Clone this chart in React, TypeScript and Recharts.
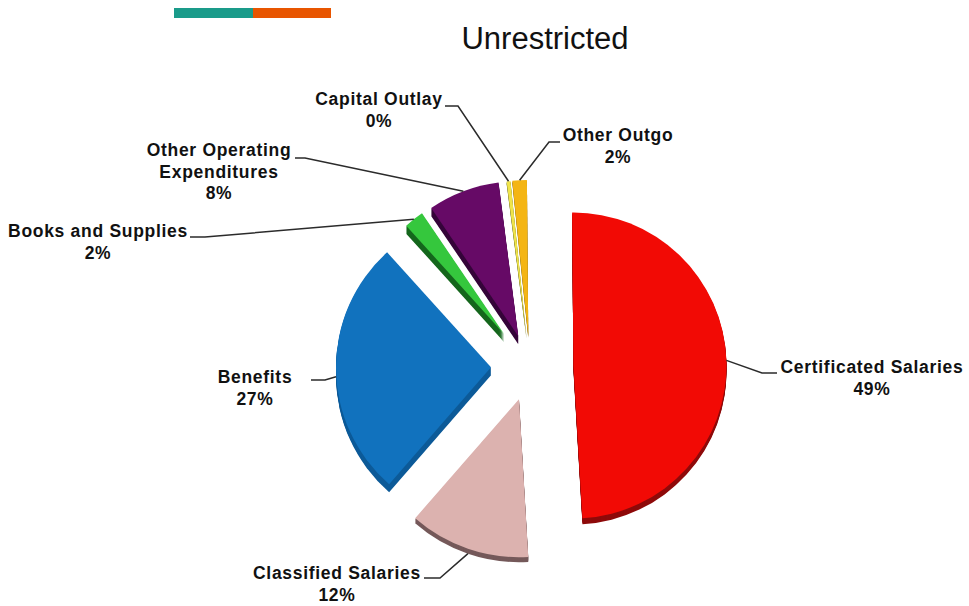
import { PieChart, Pie, Sector } from 'recharts'

const categories = [
  'Certificated Salaries',
  'Classified Salaries',
  'Benefits',
  'Books and Supplies',
  'Other Operating\nExpenditures',
  'Capital Outlay',
  'Other Outgo',
]
const shares = [49.4, 12.4, 27.0, 2.2, 7.5, 0.4, 1.5]

const faceColors = ['#f20a05', '#dcb2af', '#1172be', '#35c73d', '#660a66', '#efe44a', '#f4b514']
const sideColors = ['#8e0a0a', '#75595a', '#0c5a98', '#14661c', '#36063a', '#6a6a20', '#8a6a10']
const explode = [43.5, 34, 39, 42, 33, 31, 31]
const radii = [153, 158, 155, 146, 155, 156, 156]
const depths = [6, 5, 8, 8, 8, 2, 2]

// label centre, first-line baseline, then the elbow and end of its leader
const labelSpots = [
  { x: 872, y: 373, elbowX: 762, elbowY: 373, endX: 777 },
  { x: 337, y: 579, elbowX: 440, elbowY: 578, endX: 424 },
  { x: 255, y: 383, elbowX: 325, elbowY: 380, endX: 311 },
  { x: 98, y: 237, elbowX: 205, elbowY: 237, endX: 190 },
  { x: 219, y: 156, elbowX: 305, elbowY: 158, endX: 295 },
  { x: 379, y: 105, elbowX: 458, elbowY: 106, endX: 445 },
  { x: 618, y: 141, elbowX: 549, elbowY: 142, endX: 560 },
]

const chartData = categories.map((name, i) => ({ name, value: shares[i], index: i }))

const RAD = Math.PI / 180
const LABEL_FONT = '"Liberation Sans", Arial, sans-serif'

// Pushes a sector out along its mid angle
function sliceOrigin(cx: number, cy: number, mid: number, dist: number) {
  return { x: cx + dist * Math.cos(mid * RAD), y: cy - dist * Math.sin(mid * RAD) }
}

function ExplodedSlice(props: any) {
  const { cx, cy, startAngle, endAngle, payload } = props
  const i = payload.index
  const mid = (startAngle + endAngle) / 2
  const o = sliceOrigin(cx, cy, mid, explode[i])
  const sides = []
  for (let k = depths[i]; k > 0; k--) {
    sides.push(
      <Sector
        key={k}
        cx={o.x}
        cy={o.y + k}
        innerRadius={0}
        outerRadius={radii[i]}
        startAngle={startAngle}
        endAngle={endAngle}
        fill={sideColors[i]}
        stroke="none"
      />,
    )
  }
  return (
    <g>
      {sides}
      <Sector
        cx={o.x}
        cy={o.y}
        innerRadius={0}
        outerRadius={radii[i]}
        startAngle={startAngle}
        endAngle={endAngle}
        fill={faceColors[i]}
        stroke="none"
      />
    </g>
  )
}

function SliceLabel(props: any) {
  const { cx, cy, midAngle, payload } = props
  const i = payload.index
  const spot = labelSpots[i]
  const o = sliceOrigin(cx, cy, midAngle, explode[i])
  const tipX = o.x + radii[i] * Math.cos(midAngle * RAD)
  let tipY = o.y - radii[i] * Math.sin(midAngle * RAD)
  if (midAngle < 0 && midAngle > -180) tipY += depths[i]
  const lines = [...String(payload.name).split('\n'), `${Math.round(payload.value)}%`]
  return (
    <g>
      <polyline
        points={`${tipX},${tipY} ${spot.elbowX},${spot.elbowY} ${spot.endX},${spot.elbowY}`}
        fill="none"
        stroke="#2b2b2b"
        strokeWidth={1.5}
      />
      <text
        x={spot.x}
        y={spot.y}
        textAnchor="middle"
        fontFamily={LABEL_FONT}
        fontWeight="bold"
        fontSize={17.5}
        letterSpacing={0.7}
        fill="#111"
      >
        {lines.map((line, n) => (
          <tspan key={n} x={spot.x} dy={n === 0 ? 0 : 21.5}>
            {line}
          </tspan>
        ))}
      </text>
    </g>
  )
}

export default function App() {
  return (
    <div style={{ position: 'absolute', left: 0, top: 0, width: 969, height: 606, background: '#fff' }}>
      <PieChart width={969} height={606} margin={{ top: 0, right: 0, bottom: 0, left: 0 }}>
        <rect x={174} y={8} width={79} height={10} fill="#1a9b8a" />
        <rect x={253} y={8} width={78} height={10} fill="#e85500" />
        <text x={545} y={49} textAnchor="middle" fontFamily={LABEL_FONT} fontSize={31} fill="#111">
          Unrestricted
        </text>
        <Pie
          data={chartData}
          dataKey="value"
          nameKey="name"
          cx={530}
          cy={367}
          outerRadius={154}
          startAngle={90.5}
          endAngle={-269.5}
          stroke="none"
          shape={ExplodedSlice}
          label={SliceLabel}
          labelLine={false}
          isAnimationActive={false}
        />
      </PieChart>
    </div>
  )
}
